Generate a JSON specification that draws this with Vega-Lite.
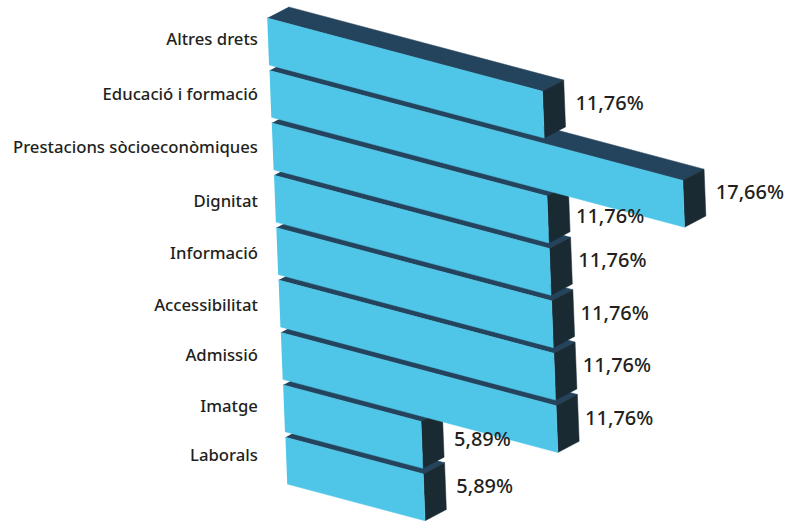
{
"$schema":"https://vega.github.io/schema/vega-lite/v6.json",
"width":790,"height":521,"autosize":{"type":"none"},"padding":0,
"background":"white","view":{"stroke":null},
"data":{"values":[
{"categoria":"Altres drets","percent":11.76},
{"categoria":"Educació i formació","percent":17.66},
{"categoria":"Prestacions  sòcioeconòmiques","percent":11.76},
{"categoria":"Dignitat","percent":11.76},
{"categoria":"Informació","percent":11.76},
{"categoria":"Accessibilitat","percent":11.76},
{"categoria":"Admissió","percent":11.76},
{"categoria":"Imatge","percent":5.89},
{"categoria":"Laborals","percent":5.89}
]},
"transform":[
{"window":[{"op":"row_number","as":"n"}]},
{"calculate":"datum.n-1","as":"i"},
{"calculate":"0.0972*datum.i","as":"a"},
{"calculate":"0.9962*datum.i","as":"b"},
{"calculate":"datum.a+datum.percent","as":"tx"},
{"calculate":"datum.b+0.1183*datum.percent","as":"ty"},
{"calculate":"[0,1,2,3]","as":"k"},
{"flatten":["k"]}
],
"layer":[
{"transform":[
{"calculate":"[datum.a,datum.tx,datum.tx+0.91,datum.a+0.91][datum.k]","as":"X"},
{"calculate":"[datum.b,datum.ty,datum.ty-0.213,datum.b-0.213][datum.k]","as":"Y"}],
"mark":{"type":"line","fill":"#24435C","stroke":"#24435C","strokeWidth":0.5},
"encoding":{
"x":{"field":"X","type":"quantitative","scale":{"domain":[-11.42,22.34],"nice":false,"zero":false},"axis":null},
"y":{"field":"Y","type":"quantitative","scale":{"domain":[-0.344,9.561],"nice":false,"zero":false,"reverse":true},"axis":null},
"detail":{"field":"categoria"},"order":{"field":"k"}}},
{"transform":[
{"calculate":"[datum.tx,datum.tx+0.91,datum.tx+0.987,datum.tx+0.077][datum.k]","as":"X"},
{"calculate":"[datum.ty,datum.ty-0.213,datum.ty+0.677,datum.ty+0.89][datum.k]","as":"Y"}],
"mark":{"type":"line","fill":"#1A2A33","stroke":"#1A2A33","strokeWidth":0.5},
"encoding":{
"x":{"field":"X","type":"quantitative","axis":null},
"y":{"field":"Y","type":"quantitative","axis":null},
"detail":{"field":"categoria"},"order":{"field":"k"}}},
{"transform":[
{"calculate":"[datum.a,datum.tx,datum.tx+0.077,datum.a+0.077][datum.k]","as":"X"},
{"calculate":"[datum.b,datum.ty,datum.ty+0.89,datum.b+0.89][datum.k]","as":"Y"}],
"mark":{"type":"line","fill":"#4FC6E8","stroke":"#4FC6E8","strokeWidth":0.5},
"encoding":{
"x":{"field":"X","type":"quantitative","axis":null},
"y":{"field":"Y","type":"quantitative","axis":null},
"detail":{"field":"categoria"},"order":{"field":"k"}}},
{"transform":[{"filter":"datum.k==0"},
{"calculate":"-0.397","as":"X"},
{"calculate":"0.416+1.0456*datum.i-0.00713*datum.i*datum.i","as":"Y"}],
"mark":{"type":"text","align":"right","baseline":"middle","font":"Noto Sans","fontSize":16.7,"fontWeight":500,"color":"#231F20"},
"encoding":{
"x":{"field":"X","type":"quantitative","axis":null},
"y":{"field":"Y","type":"quantitative","axis":null},
"text":{"field":"categoria"}}},
{"transform":[{"filter":"datum.k==0"},
{"calculate":"datum.tx+(datum.i<2||datum.i>6?1.41:1.24)","as":"X"},
{"calculate":"datum.ty+(datum.i==2?0.4:datum.i==7?0.36:0.247)","as":"Y"},
{"calculate":"replace(format(datum.percent,'.2f'),'.',',')+'%'","as":"etiqueta"}],
"mark":{"type":"text","align":"left","baseline":"middle","font":"Noto Sans","fontSize":20,"fontWeight":500,"color":"#231F20"},
"encoding":{
"x":{"field":"X","type":"quantitative","axis":null},
"y":{"field":"Y","type":"quantitative","axis":null},
"text":{"field":"etiqueta"}}}
]
}
